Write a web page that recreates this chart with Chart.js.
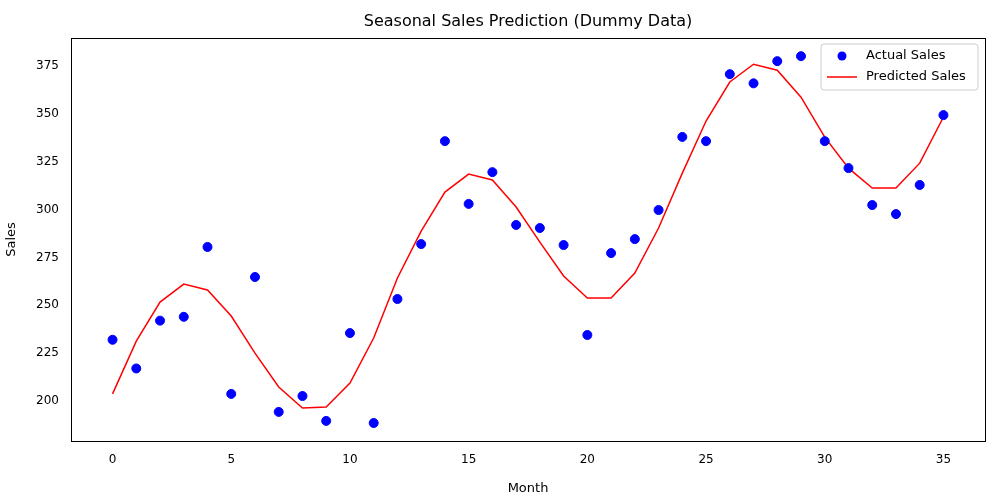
<!DOCTYPE html>
<html><head><meta charset="utf-8">
<script src="https://cdn.jsdelivr.net/npm/chart.js@4"></script>
<style>html,body{margin:0;padding:0;background:#fff}#w{width:1000px;height:500px}</style>
</head><body><div id="w"><canvas id="c"></canvas></div>
<script>
const months = Array.from({length:36},(_, i)=>i);
const actualSales = [232,217,242,244,280.5,203.7,264.8,194.3,202.6,189.6,235.5,188.5,253.3,282,335.8,303,319.6,292,290.4,281.5,234.5,277.3,284.6,299.8,338,335.8,370.8,366,377.6,380.2,335.8,321.7,302.4,297.7,312.9,349.4];
const predictedSales = [203.7,231.3,251.7,261.1,258,244.4,225,207.3,196.3,196.9,209.4,232.9,264.3,288.8,309.2,318.6,315.5,301.4,283,265.3,253.8,253.8,266.9,290.4,319.1,346.3,366.7,376,372.9,358.8,337.9,321.7,311.3,311.3,324.3,348.4];
const xTicks = [0,5,10,15,20,25,30,35];
const yTicks = [200,225,250,275,300,325,350,375];
const F = "'DejaVu Sans', sans-serif";
const overlay = {
  id:'overlay',
  afterDraw(ch){
    const c=ch.ctx, a=ch.chartArea;
    c.save();
    c.strokeStyle='#000';c.lineWidth=1;
    c.strokeRect(a.left+0.5,a.top+0.5,a.right-a.left,a.bottom-a.top);
    c.fillStyle='#000';c.font='16px '+F;c.textAlign='center';c.textBaseline='middle';
    c.fillText('Seasonal Sales Prediction (Dummy Data)',(a.left+a.right)/2,22);
    // legend
    const bx=821,by=44,bw=157,bh=46;
    c.fillStyle='rgba(255,255,255,0.8)';c.strokeStyle='#ccc';
    c.beginPath();c.roundRect(bx,by,bw,bh,3);c.fill();c.stroke();
    c.fillStyle='blue';c.beginPath();c.arc(842,56,4.5,0,Math.PI*2);c.fill();
    c.strokeStyle='red';c.lineWidth=1.5;c.beginPath();c.moveTo(827,77);c.lineTo(857,77);c.stroke();
    c.fillStyle='#000';c.font='13px '+F;c.textAlign='left';
    c.fillText('Actual Sales',866,56);c.fillText('Predicted Sales',866,77);
    c.restore();
  }
};
new Chart(document.getElementById('c'),{
  data:{
    datasets:[
      {type:'scatter',label:'Actual Sales',data:months.map((m,i)=>({x:m,y:actualSales[i]})),backgroundColor:'blue',borderColor:'blue',pointRadius:4.5,pointHoverRadius:4.5},
      {type:'line',label:'Predicted Sales',data:months.map((m,i)=>({x:m,y:predictedSales[i]})),borderColor:'red',borderWidth:1.5,pointRadius:0,fill:false,tension:0}
    ]
  },
  options:{
    responsive:true,maintainAspectRatio:false,animation:false,
    layout:{padding:{top:38,right:15,left:0,bottom:0}},
    plugins:{legend:{display:false},tooltip:{enabled:false}},
    scales:{
      x:{type:'linear',min:-1.75,max:36.75,grid:{display:false},border:{color:'#000'},
        afterBuildTicks(s){s.ticks=xTicks.map(v=>({value:v}));},
        afterFit(s){s.height=59;},
        ticks:{color:'#000',font:{family:F,size:12},padding:4},
        title:{display:true,text:'Month',color:'#000',font:{family:F,size:13},padding:{top:4}}},
      y:{min:179.1,max:389.7,grid:{display:false},border:{color:'#000'},
        afterBuildTicks(s){s.ticks=yTicks.map(v=>({value:v}));},
        afterFit(s){s.width=71;},
        ticks:{color:'#000',font:{family:F,size:12},padding:4},
        title:{display:true,text:'Sales',color:'#000',font:{family:F,size:13},padding:{bottom:4}}}
    }
  },
  plugins:[overlay]
});
</script></body></html>
